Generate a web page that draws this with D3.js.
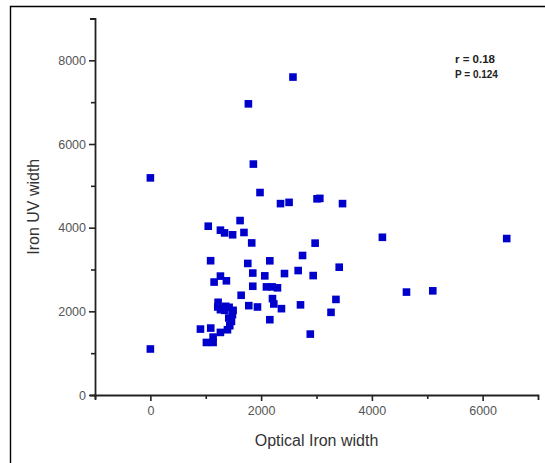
<!DOCTYPE html>
<html>
<head>
<meta charset="utf-8">
<script src="https://cdn.jsdelivr.net/npm/d3@7"></script>
<style>
  body { margin: 0; background: #fff; }
  text { font-family: "Liberation Sans", Arial, sans-serif; }
</style>
</head>
<body>
<div id="chart"></div>
<script>
// optical iron width (x) and iron UV width (y)
const opticalWidth = [
  0, 0, 2575, 1770, 1860, 1980, 2350, 2505, 3010, 3060, 3470, 4190, 6435, 4625, 5100,
  1045, 1620, 1265, 1340, 1485, 1690, 1830, 2975, 2748, 2157, 1088, 1759, 3410, 2669,
  1849, 2422, 2066, 2940, 1265, 1151, 1373, 1849, 2096, 2199, 2295, 1639, 3351, 2205,
  2229, 1777, 1934, 2711, 2367, 3262, 2157, 2888, 904, 1090, 1265, 1133, 1012, 1133,
  1392, 1223, 1217, 1265, 1361, 1343, 1422, 1494, 1482, 1416, 1464, 1434
]
const uvWidth = [
  5190, 1100, 7600, 6960, 5520, 4840, 4575, 4605, 4690, 4700, 4575, 3770, 3740, 2460, 2490,
  4035, 4170, 3940, 3875, 3830, 3885, 3635, 3630, 3335, 3208, 3210, 3145, 3055, 2975,
  2915, 2903, 2848, 2855, 2842, 2700, 2730, 2600, 2584, 2584, 2562, 2384, 2285, 2304,
  2176, 2136, 2104, 2155, 2064, 1976, 1800, 1456, 1576, 1600, 1496, 1384, 1256, 1256,
  1560, 2216, 2104, 2040, 2120, 2024, 2096, 2024, 1920, 1840, 1760, 1656
]
const xTicks = [0, 2000, 4000, 6000]
const xMinor = [-1000, 1000, 3000, 5000]
const yTicks = [0, 2000, 4000, 6000, 8000]
const yMinor = [1000, 3000, 5000, 7000]
const stats = ["r = 0.18", "P = 0.124"]

const width = 545
const height = 463
const fmt = d3.format("d")

const svg = d3.select("#chart")
  .append("svg")
  .attr("width", width)
  .attr("height", height)

// frame around the figure
svg.append("path")
  .attr("d", "M10.5,470V6.5H550")
  .attr("fill", "none")
  .attr("stroke", "#000")
  .attr("stroke-width", 1.4)

const x = d3.scaleLinear().domain([-1000, 7000]).range([95, 538])
const y = d3.scaleLinear().domain([0, 9000]).range([395, 18.5])

const data = opticalWidth.map((d, i) => ({ x: d, y: uvWidth[i] }))

// minor ticks
svg.append("g")
  .attr("transform", "translate(0,395)")
  .call(d3.axisBottom(x).tickValues(xMinor).tickSize(4).tickFormat(""))
  .call(g => g.select(".domain").remove())
svg.append("g")
  .attr("transform", "translate(95,0)")
  .call(d3.axisLeft(y).tickValues(yMinor).tickSize(4).tickFormat(""))
  .call(g => g.select(".domain").remove())

// main axes
svg.append("g")
  .attr("transform", "translate(0,395)")
  .call(d3.axisBottom(x).tickValues(xTicks).tickFormat(fmt).tickSize(6).tickSizeOuter(5).tickPadding(5))
svg.append("g")
  .attr("transform", "translate(95,0)")
  .call(d3.axisLeft(y).tickValues(yTicks).tickFormat(fmt).tickSize(6).tickSizeOuter(5).tickPadding(3))

svg.selectAll(".tick line").attr("stroke", "#222").attr("stroke-width", 1.6)
svg.selectAll(".domain").attr("stroke", "#222").attr("stroke-width", 1.8)
svg.selectAll(".tick text")
  .attr("fill", "#555")
  .style("font-size", "12.5px")
  .style("font-family", "'Liberation Sans', Arial, sans-serif")

// points
svg.append("g")
  .selectAll("rect")
  .data(data)
  .join("rect")
    .attr("x", d => x(d.x) - 3.8)
    .attr("y", d => y(d.y) - 3.8)
    .attr("width", 7.6)
    .attr("height", 7.6)
    .attr("fill", "#0000cd")

// axis titles
svg.append("text")
  .attr("x", x(3000))
  .attr("y", 446)
  .attr("text-anchor", "middle")
  .attr("fill", "#333")
  .style("font-size", "16px")
  .text("Optical Iron width")

svg.append("text")
  .attr("transform", `translate(39,${y(4500)}) rotate(-90)`)
  .attr("text-anchor", "middle")
  .attr("fill", "#333")
  .style("font-size", "16px")
  .text("Iron UV width")

// correlation note
svg.append("g")
  .selectAll("text")
  .data(stats)
  .join("text")
    .attr("x", 455)
    .attr("y", (d, i) => 63 + i * 15)
    .attr("fill", "#222")
    .style("font-weight", "bold")
    .style("font-size", (d, i) => i === 0 ? "11.5px" : "10px")
    .text(d => d)
</script>
</body>
</html>
